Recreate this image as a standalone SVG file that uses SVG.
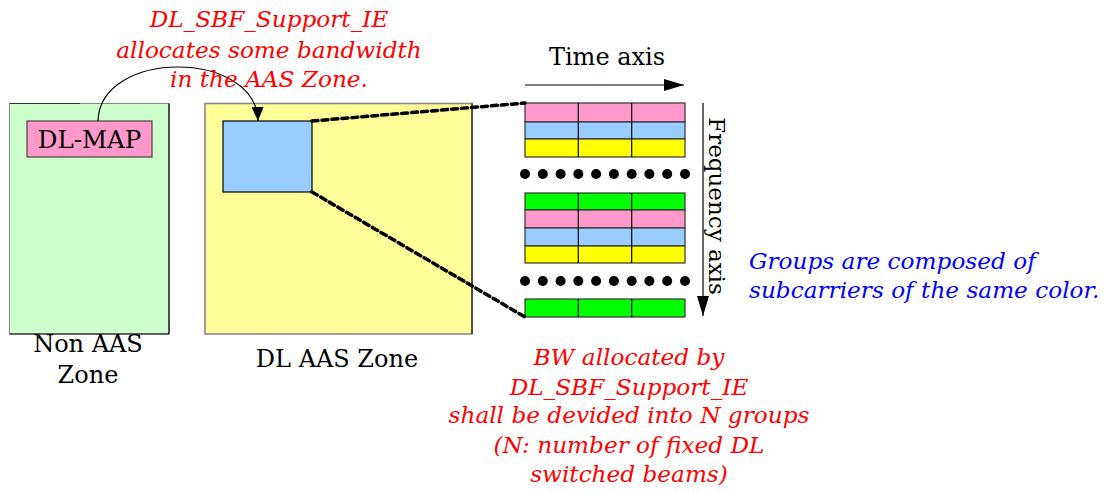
<svg xmlns="http://www.w3.org/2000/svg" width="1109" height="493" viewBox="0 0 1109 493">
  <style>
    .lbl { font-family: "DejaVu Serif", "Liberation Serif", serif; font-size: 24px; fill: #000; }
    .note-red { font-family: "DejaVu Serif", "Liberation Serif", serif; font-style: italic; font-size: 23.2px; fill: #ff0000; }
    .note-blue { font-family: "DejaVu Serif", "Liberation Serif", serif; font-style: italic; font-size: 23.2px; fill: #0000ff; }
    .cell { stroke: #333; stroke-width: 1.2; }
    .pink { fill: #ff99cc; }
    .blue { fill: #99ccff; }
    .yellow { fill: #ffff00; }
    .green { fill: #00ff00; }
    .dot { fill: #000; }
    .zoomline { fill: none; stroke: #000; stroke-width: 3.5; stroke-dasharray: 6 4; stroke-linecap: round; }
  </style>
  <defs>
    <marker id="tri" viewBox="0 0 20 12" refX="20" refY="6" markerWidth="20" markerHeight="12" markerUnits="userSpaceOnUse" orient="auto">
      <path d="M0,0 L20,6 L0,12 Z" fill="#000"/>
    </marker>
    <marker id="triSmall" viewBox="0 0 14 12" refX="14" refY="6" markerWidth="14" markerHeight="12" markerUnits="userSpaceOnUse" orient="auto">
      <path d="M0,0 L14,6 L0,12 Z" fill="#000"/>
    </marker>
  </defs>

  <rect width="1109" height="493" fill="#fff"/>

  <!-- Non AAS zone -->
  <g id="non-aas-zone">
    <rect x="9.5" y="103.5" width="159.5" height="230.5" fill="#ccffcc" stroke="#888" stroke-width="1"/>
    <line x1="9.5" y1="103.5" x2="80" y2="103.5" stroke="#333" stroke-width="1"/>
    <line x1="169" y1="103.5" x2="169" y2="334" stroke="#000" stroke-width="1.2"/>
    <line x1="9.5" y1="334" x2="169" y2="334" stroke="#000" stroke-width="1.2"/>
    <text class="lbl" x="88" y="352" text-anchor="middle">Non AAS</text>
    <text class="lbl" x="88" y="383" text-anchor="middle">Zone</text>
  </g>

  <!-- DL-MAP -->
  <g id="dl-map">
    <rect x="27" y="121" width="125" height="36" fill="#ff99cc" stroke="#444" stroke-width="1.2"/>
    <text class="lbl" x="89.5" y="147.5" text-anchor="middle" style="font-size:24.5px">DL-MAP</text>
  </g>

  <!-- DL AAS zone -->
  <g id="dl-aas-zone">
    <rect x="205" y="103.5" width="267" height="230.5" fill="#ffff99" stroke="#888" stroke-width="1.6"/>
    <line x1="472" y1="103.5" x2="472" y2="334" stroke="#000" stroke-width="1"/>
    <text class="lbl" x="337" y="367" text-anchor="middle">DL AAS Zone</text>
  </g>

  <!-- Allocated region -->
  <g id="sbf-region">
    <rect x="223" y="121" width="89" height="71" fill="#99ccff" stroke="#000" stroke-width="1.2"/>
  </g>

  <!-- Subcarrier groups -->
  <g id="subcarrier-grid">
    <rect class="cell pink" x="525" y="103" width="160" height="19"/>
    <rect class="cell blue" x="525" y="122" width="160" height="17"/>
    <rect class="cell yellow" x="525" y="139" width="160" height="18"/>
    <rect class="cell green" x="525" y="193" width="160" height="17"/>
    <rect class="cell pink" x="525" y="210" width="160" height="18"/>
    <rect class="cell blue" x="525" y="228" width="160" height="18"/>
    <rect class="cell yellow" x="525" y="246" width="160" height="17"/>
    <rect class="cell green" x="525" y="299" width="160" height="18"/>
    <path d="M578.3,103 V157 M631.7,103 V157 M578.3,193 V263 M631.7,193 V263 M578.3,299 V317 M631.7,299 V317" stroke="#000" stroke-width="1.2"/>
    <g class="dot">
      <circle cx="525" cy="174" r="5"/><circle cx="542.8" cy="174" r="5"/><circle cx="560.6" cy="174" r="5"/><circle cx="578.3" cy="174" r="5"/><circle cx="596.1" cy="174" r="5"/>
      <circle cx="613.9" cy="174" r="5"/><circle cx="631.7" cy="174" r="5"/><circle cx="649.4" cy="174" r="5"/><circle cx="667.2" cy="174" r="5"/><circle cx="685" cy="174" r="5"/>
      <circle cx="525" cy="281" r="5"/><circle cx="542.8" cy="281" r="5"/><circle cx="560.6" cy="281" r="5"/><circle cx="578.3" cy="281" r="5"/><circle cx="596.1" cy="281" r="5"/>
      <circle cx="613.9" cy="281" r="5"/><circle cx="631.7" cy="281" r="5"/><circle cx="649.4" cy="281" r="5"/><circle cx="667.2" cy="281" r="5"/><circle cx="685" cy="281" r="5"/>
    </g>
  </g>

  <!-- Axes -->
  <g id="time-axis">
    <line x1="525" y1="85" x2="684" y2="85" stroke="#000" stroke-width="1.2" marker-end="url(#tri)"/>
    <text class="lbl" x="607" y="65" text-anchor="middle">Time axis</text>
  </g>
  <g id="frequency-axis">
    <line x1="703" y1="103" x2="703" y2="316" stroke="#000" stroke-width="1.2" marker-end="url(#tri)"/>
    <text class="lbl" transform="translate(709,206) rotate(90)" text-anchor="middle" style="font-size:23px">Frequency axis</text>
  </g>

  <!-- Connectors -->
  <g id="connectors">
    <path d="M98,121 C100,49 256,49 258,121" fill="none" stroke="#000" stroke-width="1.2" marker-end="url(#triSmall)"/>
    <line class="zoomline" x1="312" y1="121" x2="525" y2="103"/>
    <line class="zoomline" x1="312" y1="192" x2="525" y2="317"/>
  </g>

  <!-- Annotations -->
  <g id="note-allocation">
    <text class="note-red" x="269" y="27" text-anchor="middle">DL_SBF_Support_IE</text>
    <text class="note-red" x="269" y="58" text-anchor="middle">allocates some bandwidth</text>
    <text class="note-red" x="269" y="87" text-anchor="middle">in the AAS Zone.</text>
  </g>
  <g id="note-groups">
    <text class="note-blue" x="749" y="269">Groups are composed of</text>
    <text class="note-blue" x="749" y="298">subcarriers of the same color.</text>
  </g>
  <g id="note-division">
    <text class="note-red" x="629" y="365" text-anchor="middle">BW allocated by</text>
    <text class="note-red" x="629" y="395" text-anchor="middle">DL_SBF_Support_IE</text>
    <text class="note-red" x="629" y="423" text-anchor="middle">shall be devided into N groups</text>
    <text class="note-red" x="629" y="453" text-anchor="middle">(N: number of fixed DL</text>
    <text class="note-red" x="629" y="482" text-anchor="middle">switched beams)</text>
  </g>
</svg>
